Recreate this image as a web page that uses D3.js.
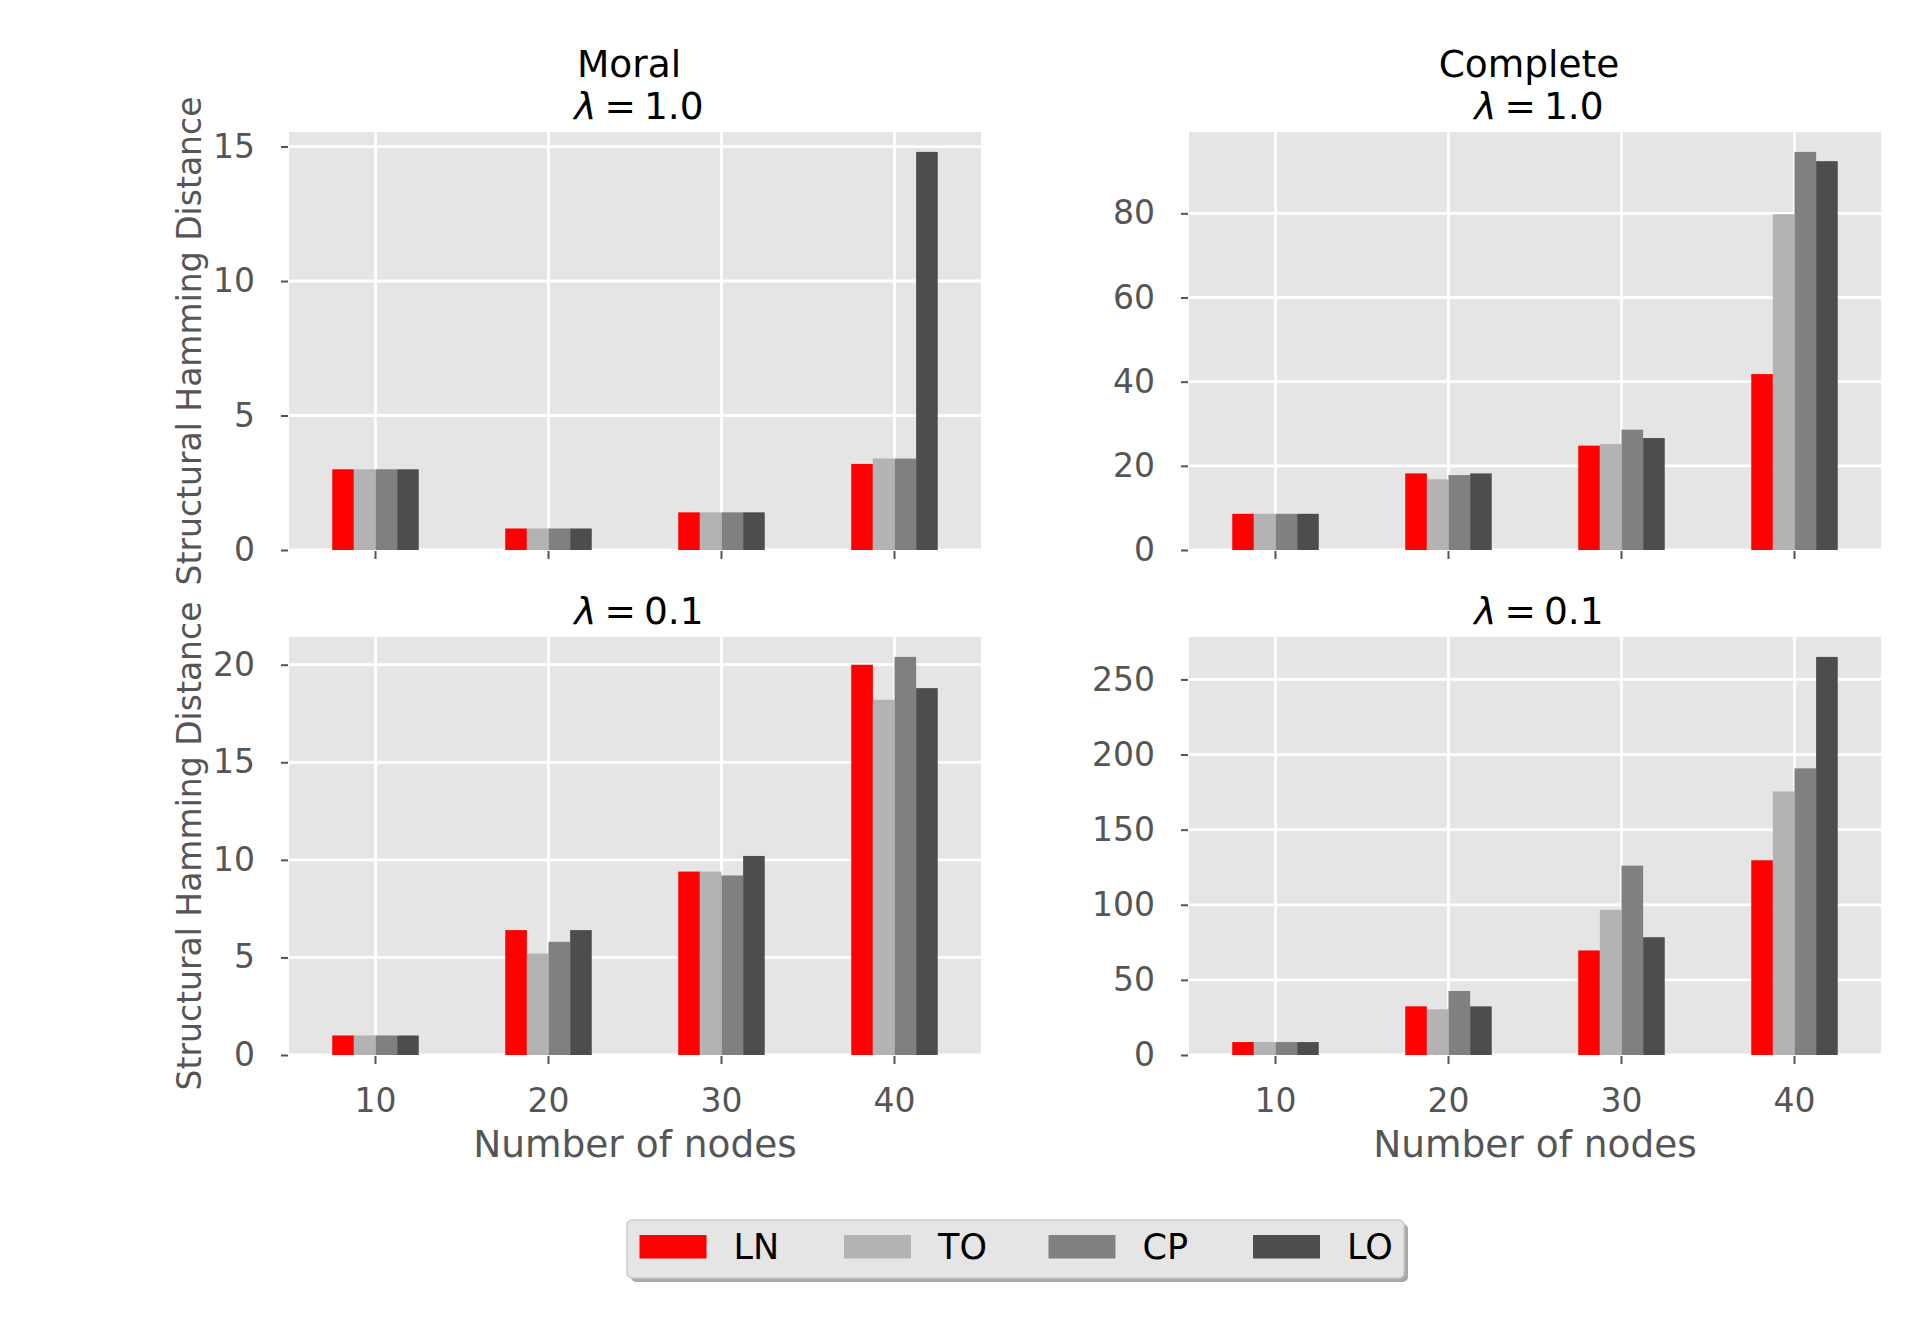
<!DOCTYPE html>
<html>
<head>
<meta charset="utf-8">
<script src="https://cdn.jsdelivr.net/npm/d3@7"></script>
<style>
  body { margin: 0; background: #fff; }
  svg text { font-family: "DejaVu Sans", sans-serif; }
</style>
</head>
<body>
<div id="chart"></div>
<script>
const nodes = ["10", "20", "30", "40"];
const methods = ["LN", "TO", "CP", "LO"];
const methodColors = ["#ff0000", "#b3b3b3", "#808080", "#4d4d4d"];

// one row per number of nodes, values in the order LN, TO, CP, LO
const moralLam1 = [
  [3.0, 3.0, 3.0, 3.0],
  [0.8, 0.8, 0.8, 0.8],
  [1.4, 1.4, 1.4, 1.4],
  [3.2, 3.4, 3.4, 14.8]
];
const moralLam01 = [
  [1.0, 1.0, 1.0, 1.0],
  [6.4, 5.2, 5.8, 6.4],
  [9.4, 9.4, 9.2, 10.2],
  [20.0, 18.2, 20.4, 18.8]
];
const completeLam1 = [
  [8.6, 8.6, 8.6, 8.6],
  [18.2, 16.8, 17.8, 18.2],
  [24.8, 25.2, 28.6, 26.6],
  [41.8, 79.8, 94.6, 92.4]
];
const completeLam01 = [
  [8.6, 8.6, 8.6, 8.6],
  [32.4, 30.4, 42.6, 32.4],
  [69.6, 96.6, 126.0, 78.4],
  [129.6, 175.4, 190.8, 265.0]
];

// y tick labels
const ticksMoralLam1 = [0, 5, 10, 15];
const ticksMoralLam01 = [0, 5, 10, 15, 20];
const ticksCompleteLam1 = [0, 20, 40, 60, 80];
const ticksCompleteLam01 = [0, 50, 100, 150, 200, 250];

const width = 1920, height = 1320;
const colX = [289, 1189], rowY = [132, 637];
const pw = 692, ph = 418;

const svg = d3.select("#chart")
  .append("svg")
  .attr("width", width)
  .attr("height", height);

const panels = [
  { data: moralLam1, ticks: ticksMoralLam1, col: 0, row: 0, head: "Moral", lam: "1.0" },
  { data: completeLam1, ticks: ticksCompleteLam1, col: 1, row: 0, head: "Complete", lam: "1.0" },
  { data: moralLam01, ticks: ticksMoralLam01, col: 0, row: 1, head: null, lam: "0.1" },
  { data: completeLam01, ticks: ticksCompleteLam01, col: 1, row: 1, head: null, lam: "0.1" }
];

panels.forEach(function (p) {
  const g = svg.append("g")
    .attr("transform", `translate(${colX[p.col]},${rowY[p.row]})`);

  const x0 = d3.scaleBand()
    .domain(nodes)
    .range([0, pw])
    .paddingInner(0.5)
    .paddingOuter(0.25);
  const x1 = d3.scaleBand()
    .domain(methods)
    .range([0, x0.bandwidth()]);
  const y = d3.scaleLinear()
    .domain([0, d3.max(p.data.flat()) * 1.05])
    .range([ph, 0]);

  // background
  g.append("rect")
    .attr("width", pw)
    .attr("height", ph)
    .attr("fill", "#e5e5e5");

  // grid
  g.append("g")
    .selectAll("line")
    .data(p.ticks)
    .join("line")
    .attr("x1", 0).attr("x2", pw)
    .attr("y1", d => y(d)).attr("y2", d => y(d))
    .attr("stroke", "#fff")
    .attr("stroke-width", 2.8);
  g.append("g")
    .selectAll("line")
    .data(nodes)
    .join("line")
    .attr("x1", d => x0(d) + x0.bandwidth() / 2)
    .attr("x2", d => x0(d) + x0.bandwidth() / 2)
    .attr("y1", 0).attr("y2", ph)
    .attr("stroke", "#fff")
    .attr("stroke-width", 2.8);

  // bars
  g.append("g")
    .selectAll("g")
    .data(p.data)
    .join("g")
    .attr("transform", (d, i) => `translate(${x0(nodes[i])},0)`)
    .selectAll("rect")
    .data(d => d.map((v, j) => ({ m: methods[j], v: v, c: methodColors[j] })))
    .join("rect")
    .attr("x", d => x1(d.m))
    .attr("y", d => y(d.v))
    .attr("width", x1.bandwidth())
    .attr("height", d => ph - y(d.v))
    .attr("fill", d => d.c);

  // y axis
  const ya = g.append("g")
    .call(d3.axisLeft(y).tickValues(p.ticks).tickSize(7).tickPadding(27));
  ya.select(".domain").remove();
  ya.selectAll(".tick line")
    .attr("stroke", "#555")
    .attr("stroke-width", 2)
    .attr("transform", "translate(-1,0)");
  ya.selectAll(".tick text")
    .attr("fill", "#555")
    .attr("font-size", 33);

  // x axis
  const xa = g.append("g")
    .attr("transform", `translate(0,${ph})`)
    .call(d3.axisBottom(x0).tickSize(8).tickPadding(26));
  xa.select(".domain").remove();
  xa.selectAll(".tick line")
    .attr("stroke", "#555")
    .attr("stroke-width", 2)
    .attr("transform", "translate(0,1)");
  xa.selectAll(".tick text")
    .attr("fill", "#555")
    .attr("font-size", 33)
    .style("display", p.row === 1 ? null : "none");

  // titles
  const cx = pw / 2;
  const lamBase = -13;
  const t = g.append("text")
    .attr("x", cx + 4)
    .attr("y", lamBase)
    .attr("text-anchor", "middle")
    .attr("font-size", 37.5)
    .attr("fill", "#000");
  t.append("tspan").attr("font-style", "italic").text("λ");
  t.append("tspan").attr("dx", 8).text("=");
  t.append("tspan").attr("dx", 8).text(p.lam);
  if (p.head) {
    g.append("text")
      .attr("x", cx - 6)
      .attr("y", lamBase - 42.3)
      .attr("text-anchor", "middle")
      .attr("font-size", 37.5)
      .attr("fill", "#000")
      .text(p.head);
  }

  if (p.col === 0) {
    g.append("text")
      .attr("transform", `translate(${201 - colX[0]},${ph / 2}) rotate(-90)`)
      .attr("text-anchor", "middle")
      .attr("font-size", 33)
      .attr("fill", "#555")
      .text("Structural Hamming Distance");
  }
  if (p.row === 1) {
    g.append("text")
      .attr("x", cx)
      .attr("y", ph + 102)
      .attr("text-anchor", "middle")
      .attr("font-size", 37.5)
      .attr("fill", "#555")
      .text("Number of nodes");
  }
});

// legend
const lg = svg.append("g").attr("transform", "translate(627,1220)");
lg.append("rect")
  .attr("x", 4).attr("y", 4)
  .attr("width", 777).attr("height", 58)
  .attr("rx", 5)
  .attr("fill", "#a8a8a8");
lg.append("rect")
  .attr("width", 777).attr("height", 58)
  .attr("rx", 5)
  .attr("fill", "#e5e5e5")
  .attr("stroke", "#cccccc")
  .attr("stroke-width", 1.5);

const item = lg.selectAll("g.item")
  .data(methods)
  .join("g")
  .attr("class", "item")
  .attr("transform", (d, i) => `translate(${12.5 + i * 204.5},0)`);
item.append("rect")
  .attr("y", 15)
  .attr("width", 67)
  .attr("height", 23.5)
  .attr("fill", (d, i) => methodColors[i]);
item.append("text")
  .attr("x", 94)
  .attr("y", 38.5)
  .attr("font-size", 35)
  .attr("fill", "#000")
  .text(d => d);
</script>
</body>
</html>
